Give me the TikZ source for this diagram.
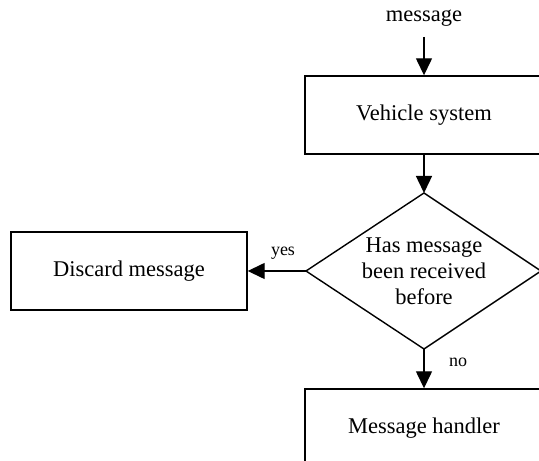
\documentclass[tikz,border=0pt]{standalone}
\usepackage{fontspec}
\setmainfont{Liberation Serif}
\usetikzlibrary{arrows.meta}
\begin{document}
\begin{tikzpicture}[x=1pt,y=1pt,
  box/.style={draw, line width=1.4pt, minimum width=238pt, minimum height=78pt,
    inner sep=0pt, font=\fontsize{22.5}{26}\selectfont},
  txt/.style={inner sep=0pt, font=\fontsize{22.5}{26}\selectfont},
  flow/.style={line width=1.4pt, -{Triangle[length=17pt,width=16pt]}},
  lbl/.style={inner sep=0pt, font=\fontsize{18}{20}\selectfont}]
\useasboundingbox (0,0) rectangle (539,461);
\clip (0,0) rectangle (539,461);

% incoming message
\node[txt] (msg) at (424,443) {message};
\coordinate (in) at (424,424);

% process boxes
\node[box] (veh) at (424,346) {Vehicle system};
\node[box, minimum width=236pt] (dis) at (129,190) {Discard message};
\node[box] (hdl) at (424,33) {Message handler};

% decision diamond
\coordinate (dt) at (424,268);
\coordinate (dr) at (541,190);
\coordinate (db) at (424,112);
\coordinate (dl) at (306,190);
\draw[line width=1.4pt, line join=miter] (dt) -- (dr) -- (db) -- (dl) -- cycle;
\node[txt, align=center] (q) at (424,190) {Has message\\been received\\before};

% connectors
\draw[flow] (in) -- (veh.north);
\draw[flow] (veh.south) -- (dt);
\draw[flow] (dl) -- (dis.east);
\draw[flow] (db) -- (hdl.north);

% branch labels
\node[lbl] (yes) at (283,208) {yes};
\node[lbl] (no) at (458,99) {no};
\end{tikzpicture}
\end{document}
